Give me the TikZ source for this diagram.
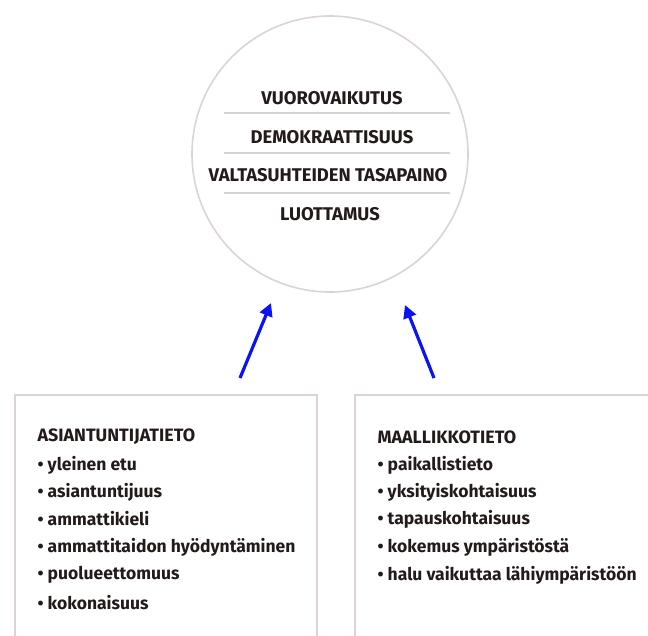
\documentclass[tikz,border=0pt]{standalone}
\usepackage{fontspec}
\setmainfont{Fira Sans}[BoldFont={Fira Sans Bold}]
\usetikzlibrary{arrows.meta}
\definecolor{rimgrey}{HTML}{DCD3D3}
\definecolor{rulegrey}{HTML}{D6D2D2}
\definecolor{inkdark}{HTML}{231A1A}
\definecolor{arrowblue}{HTML}{0A14F0}
\tikzset{
  circtext/.style={font=\bfseries\fontsize{18.4}{22}\selectfont, text=inkdark, anchor=center},
  headtext/.style={font=\bfseries\fontsize{17.9}{22}\selectfont, text=inkdark, anchor=west},
  itemtext/.style={font=\bfseries\fontsize{17.5}{21}\selectfont, text=inkdark, anchor=west},
  sepline/.style={draw=rulegrey, line width=1.2pt},
  panel/.style={draw=rimgrey, line width=1.6pt, fill=white},
  upar/.style={draw=arrowblue, line width=3.2pt, -{Triangle[length=13pt,width=13pt]}}
}
\begin{document}
\begin{tikzpicture}[x=1pt,y=-1pt]
\useasboundingbox (0,0) rectangle (648,635);
% central circle with its four values
\node[circle, panel, minimum size=276pt, inner sep=0pt] (core) at (330,154) {};
\node[circtext] (v1) at (332,98) {VUOROVAIKUTUS};
\node[circtext] (v2) at (332,137) {DEMOKRAATTISUUS};
\node[circtext] (v3) at (328,175) {VALTASUHTEIDEN TASAPAINO};
\node[circtext] (v4) at (330,214) {LUOTTAMUS};
\coordinate (s1a) at (224,113); \coordinate (s1b) at (450,113);
\coordinate (s2a) at (224,153); \coordinate (s2b) at (450,153);
\coordinate (s3a) at (224,193); \coordinate (s3b) at (450,193);
\draw[sepline] (s1a) -- (s1b);
\draw[sepline] (s2a) -- (s2b);
\draw[sepline] (s3a) -- (s3b);
% two knowledge panels
\draw[panel] (15,395) rectangle (317,640);
\draw[panel] (355,395) rectangle (660,640);
\node[headtext] (h1) at (34,437) {ASIANTUNTIJATIETO};
\node[itemtext] (a1) at (34,465) {• yleinen etu};
\node[itemtext] (a2) at (34,492) {• asiantuntijuus};
\node[itemtext] (a3) at (34,519) {• ammattikieli};
\node[itemtext] (a4) at (34,547) {• ammattitaidon hyödyntäminen};
\node[itemtext] (a5) at (34,575) {• puolueettomuus};
\node[itemtext] (a6) at (34,603) {• kokonaisuus};
\node[headtext] (h2) at (374,437) {MAALLIKKOTIETO};
\node[itemtext] (b1) at (374,465) {• paikallistieto};
\node[itemtext] (b2) at (374,492) {• yksityiskohtaisuus};
\node[itemtext] (b3) at (374,519) {• tapauskohtaisuus};
\node[itemtext] (b4) at (374,547) {• kokemus ympäristöstä};
\node[itemtext] (b5) at (374,575) {• halu vaikuttaa lähiympäristöön};
% arrows pointing up into the circle
\coordinate (t1) at (240,378); \coordinate (p1) at (271,303);
\coordinate (t2) at (434,378); \coordinate (p2) at (405,305);
\draw[upar] (t1) -- (p1);
\draw[upar] (t2) -- (p2);
\end{tikzpicture}
\end{document}
